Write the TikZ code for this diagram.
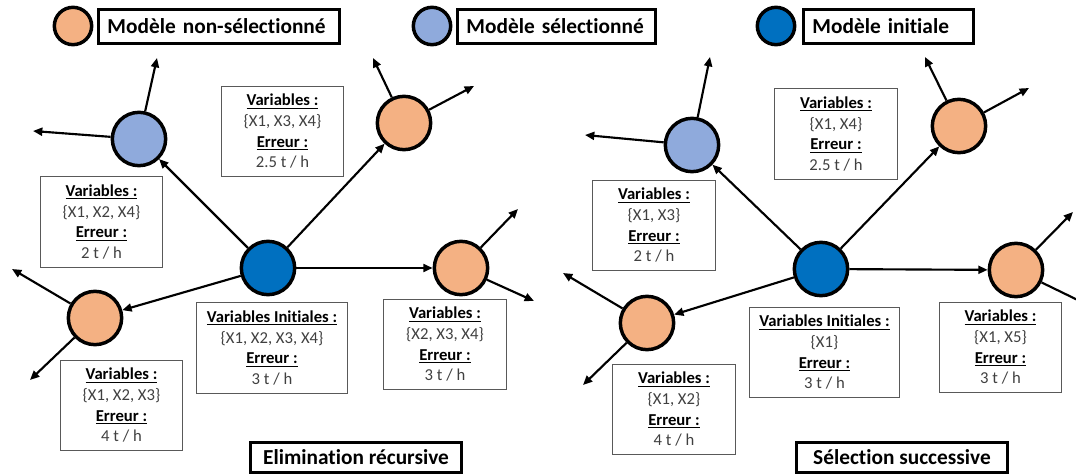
\documentclass[tikz,border=0pt]{standalone}
\usepackage{fontspec}
\setmainfont{Carlito}[Ligatures={NoCommon}]
\usepackage{tikz}
\usetikzlibrary{arrows.meta}
\definecolor{peach}{HTML}{F4B183}
\definecolor{selblue}{HTML}{8FAADC}
\definecolor{initblue}{HTML}{0070C0}
\definecolor{valgray}{HTML}{404040}
\definecolor{boxgray}{HTML}{595959}

\newcommand{\infotext}[3]{\underline{\textbf{#1}}\\{\color{valgray}#2}\\\underline{\textbf{Erreur :}}\\{\color{valgray}#3}}

\tikzset{
  mnode/.style={circle, draw=black, line width=2.6pt, minimum size=40pt, inner sep=0pt},
  legdot/.style={mnode, minimum size=28pt},
  arr/.style={-{Triangle[length=7pt,width=6pt]}, line width=1.6pt},
  infobox/.style={draw=boxgray, line width=0.8pt, fill=white, align=center,
    minimum width=92pt, minimum height=68pt, inner sep=2pt,
    font=\fontsize{12.5pt}{15.5pt}\selectfont},
  legbox/.style={draw=black, line width=2.2pt, align=left, anchor=west,
    inner xsep=6.75pt, inner ysep=0pt, minimum height=26pt,
    font=\fontsize{16pt}{19pt}\selectfont\bfseries},
  titlebox/.style={draw=black, line width=2.2pt, align=center,
    minimum width=158pt, minimum height=23pt, inner sep=0pt,
    font=\fontsize{16pt}{19pt}\selectfont\bfseries}
}

\begin{document}
\begin{tikzpicture}[x=0.75pt, y=-0.75pt]
  \useasboundingbox (0,0) rectangle (1076,474);

  % legend
  \node[legdot, fill=peach] (legNon) at (73,26) {};
  \node[legbox, text width=167pt] (legNonTxt) at (97,26.5) {Modèle non-sélectionné};
  \node[legdot, fill=selblue] (legSel) at (432,26) {};
  \node[legbox, text width=135pt] (legSelTxt) at (456,26.5) {Modèle sélectionné};
  \node[legdot, fill=initblue] (legInit) at (776,26) {};
  \node[legbox, text width=114pt] (legInitTxt) at (802,26.5) {Modèle initiale};

  % elimination recursive
  \node[mnode, fill=initblue] (lInit) at (268,268) {};
  \node[mnode, fill=selblue] (lSel) at (139,139) {};
  \node[mnode, fill=peach] (lTop) at (404,123) {};
  \node[mnode, fill=peach] (lRight) at (461,268) {};
  \node[mnode, fill=peach] (lLow) at (95,318) {};

  \node[infobox] (lInfoSel) at (101.5,222) {\infotext{Variables :}{\{X1, X2, X4\}}{2 t / h}};
  \node[infobox] (lInfoTop) at (282.5,131.5) {\infotext{Variables :}{\{X1, X3, X4\}}{2.5 t / h}};
  \node[infobox, minimum width=113pt] (lInfoInit) at (272,348) {\infotext{Variables Initiales :}{\{X1, X2, X3, X4\}}{3 t / h}};
  \node[infobox] (lInfoRight) at (445,344.5) {\infotext{Variables :}{\{X2, X3, X4\}}{3 t / h}};
  \node[infobox] (lInfoLow) at (121.5,405.5) {\infotext{Variables :}{\{X1, X2, X3\}}{4 t / h}};

  \node[titlebox] (lTitle) at (356,457.5) {Elimination récursive};

  % selection successive
  \node[mnode, fill=initblue] (rInit) at (821,269) {};
  \node[mnode, fill=selblue] (rSel) at (692,145) {};
  \node[mnode, fill=peach] (rTop) at (959,126) {};
  \node[mnode, fill=peach] (rRight) at (1016,270) {};
  \node[mnode, fill=peach] (rLow) at (647,323) {};

  \node[infobox] (rInfoSel) at (654,225.5) {\infotext{Variables :}{\{X1, X3\}}{2 t / h}};
  \node[infobox] (rInfoTop) at (836,134) {\infotext{Variables :}{\{X1, X4\}}{2.5 t / h}};
  \node[infobox, minimum width=113pt] (rInfoInit) at (824.5,352.5) {\infotext{Variables Initiales :}{\{X1\}}{3 t / h}};
  \node[infobox] (rInfoRight) at (1000.5,347.5) {\infotext{Variables :}{\{X1, X5\}}{3 t / h}};
  \node[infobox] (rInfoLow) at (674,409.5) {\infotext{Variables :}{\{X1, X2\}}{4 t / h}};

  \node[titlebox] (rTitle) at (902,457.5) {Sélection successive};

  % arrows from the initial models
  \foreach \side in {l,r}{
    \foreach \tgt in {Sel,Top,Right,Low}
      \draw[arr] (\side Init) -- (\side\tgt);
  }

  % next steps
  \foreach \from/\to/\x/\y in {lSel/lSelUp/157/58, lSel/lSelLeft/33/131,
      lTop/lTopUp/373/58, lTop/lTopRight/474/86,
      lRight/lRightUp/518/209, lRight/lRightDown/534/301,
      lLow/lLowUp/12/269, lLow/lLowDown/30/380,
      rSel/rSelUp/710/57, rSel/rSelLeft/585/135,
      rTop/rTopUp/925/57, rTop/rTopRight/1029/88,
      rRight/rRightUp/1073/212, rRight/rRightDown/1090/306,
      rLow/rLowUp/563/273, rLow/rLowDown/583/385}{
    \coordinate (\to) at (\x,\y);
    \draw[arr] (\from) -- (\to);
  }
\end{tikzpicture}
\end{document}
